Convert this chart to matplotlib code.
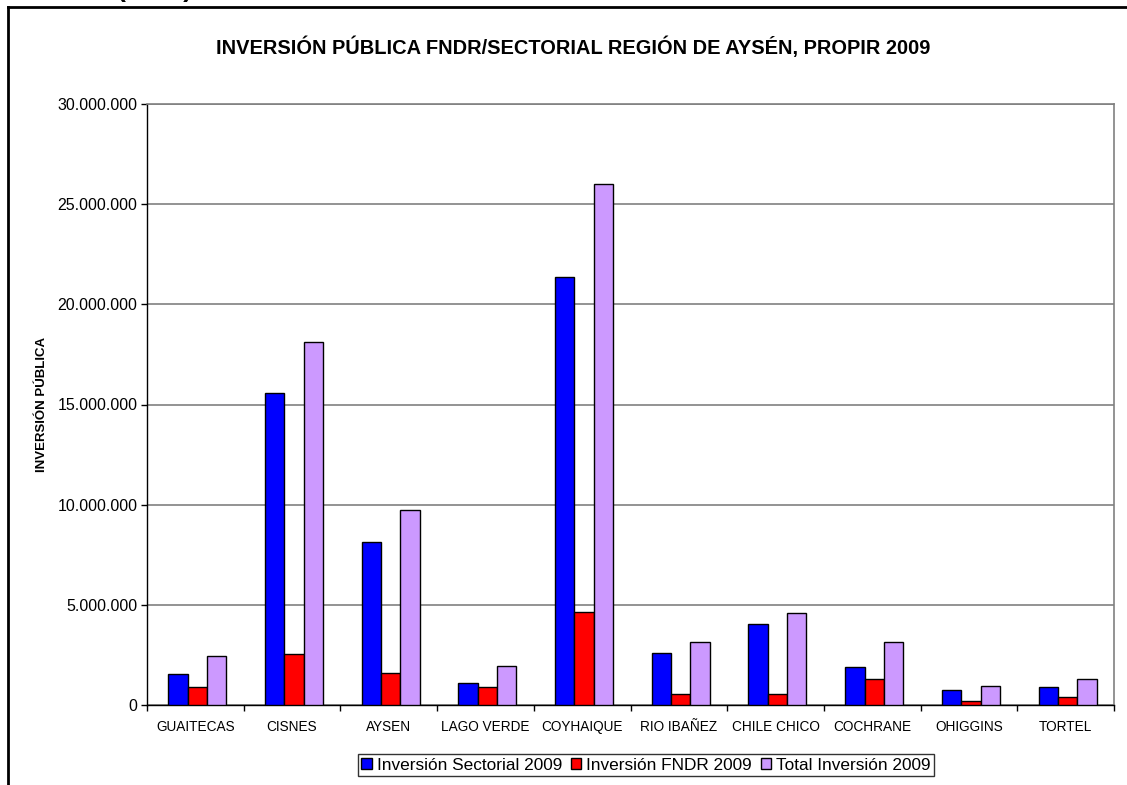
import matplotlib
matplotlib.use("Agg")
import matplotlib.pyplot as plt
import numpy as np
from matplotlib.lines import Line2D
from matplotlib.ticker import FuncFormatter, FixedLocator

plt.rcParams['font.family'] = ['Liberation Sans', 'DejaVu Sans']

categories = ["GUAITECAS", "CISNES", "AYSEN", "LAGO VERDE", "COYHAIQUE",
              "RIO IBAÑEZ", "CHILE CHICO", "COCHRANE", "OHIGGINS", "TORTEL"]
sectorial = [1560000, 15590000, 8140000, 1080000, 21350000,
             2580000, 4030000, 1880000, 750000, 900000]
fndr = [910000, 2530000, 1610000, 880000, 4660000,
        570000, 570000, 1280000, 220000, 400000]
total = [2470000, 18120000, 9750000, 1960000, 26010000,
         3150000, 4600000, 3160000, 970000, 1300000]
series_labels = ["Inversión Sectorial 2009", "Inversión FNDR 2009", "Total Inversión 2009"]
colors = ["#0000FF", "#FF0000", "#CC99FF"]
yticks = [0, 5000000, 10000000, 15000000, 20000000, 25000000, 30000000]

W, H = 1127, 785
fig = plt.figure(figsize=(W / 100, H / 100), dpi=100)
ax = fig.add_axes([147 / W, 1 - 705 / H, (1114 - 147) / W, (705 - 104) / H])

x = np.arange(len(categories))
bw = 0.2
for k, (vals, lab, col) in enumerate(zip([sectorial, fndr, total], series_labels, colors)):
    ax.bar(x + (k - 1) * bw + 0.02, vals, width=bw, color=col, edgecolor="black",
           linewidth=1.0, label=lab, zorder=3)

ax.set_xlim(-0.5, len(categories) - 0.5)
ax.set_ylim(0, 30000000)
ax.set_yticks(yticks)
ax.yaxis.set_major_formatter(FuncFormatter(lambda v, p: f"{int(v):,}".replace(",", ".")))
ax.tick_params(axis='y', direction='out', length=4, width=1, labelsize=11.5, pad=3, colors='black')
ax.grid(axis='y', color='#808080', linewidth=1.2, zorder=0)

ax.xaxis.set_major_locator(FixedLocator(np.arange(-0.5, len(categories), 1.0)))
ax.xaxis.set_minor_locator(FixedLocator(x))
ax.set_xticklabels([], minor=False)
ax.set_xticklabels(categories, minor=True)
ax.tick_params(axis='x', which='major', direction='out', length=4, width=1)
ax.tick_params(axis='x', which='minor', length=0, labelsize=9.8, pad=11)

for s in ['top', 'right']:
    ax.spines[s].set_color('#808080')
    ax.spines[s].set_linewidth(1.2)
for s in ['left', 'bottom']:
    ax.spines[s].set_color('black')
    ax.spines[s].set_linewidth(1.0)

ax.set_ylabel("INVERSIÓN PÚBLICA", fontsize=9.5, fontweight='bold')
ax.yaxis.set_label_coords((48 - 147) / (1114 - 147), 0.5)

fig.text(573 / W, 1 - 47 / H, "INVERSIÓN PÚBLICA FNDR/SECTORIAL REGIÓN DE AYSÉN, PROPIR 2009",
         ha='center', va='center', fontsize=14.4, fontweight='bold')

# partially visible heading above the frame
fig.text(117 / W, 1 + 3 / H, "(MM$)", ha='left', va='baseline', fontsize=19, fontweight='bold')

# outer frame lines
fig.add_artist(Line2D([8 / W, 1.0], [1 - 7 / H, 1 - 7 / H], color='black', linewidth=2,
                      transform=fig.transFigure))
fig.add_artist(Line2D([8 / W, 8 / W], [1 - 7 / H, 0.0], color='black', linewidth=2,
                      transform=fig.transFigure))

leg = fig.legend(loc='center', bbox_to_anchor=(646 / W, 1 - 765 / H), ncol=3,
                 fontsize=12.4, frameon=True, fancybox=False, edgecolor='black',
                 handlelength=0.6, handleheight=0.6, handletextpad=0.3,
                 columnspacing=0.5, borderpad=0.2, borderaxespad=0)
leg.get_frame().set_linewidth(1.0)

fig.savefig("out.png", dpi=100)
